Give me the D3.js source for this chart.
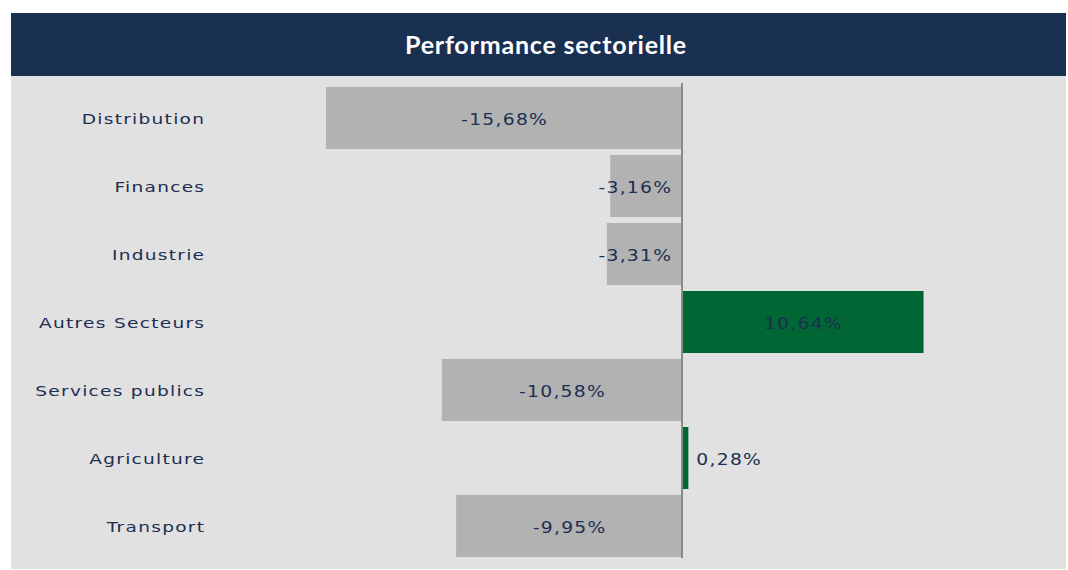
<!DOCTYPE html>
<html><head><meta charset="utf-8">
<script src="https://cdn.jsdelivr.net/npm/d3@7"></script>
<style>body{margin:0;background:#fff}svg{display:block}</style>
</head><body>
<svg id="c" width="1068" height="570"></svg>
<script>
const categories = ["Distribution","Finances","Industrie","Autres Secteurs","Services publics","Agriculture","Transport"];
const values = [-15.68,-3.16,-3.31,10.64,-10.58,0.28,-9.95];
const title = "Performance sectorielle";

const svg = d3.select("#c");
svg.append("rect").attr("x",11).attr("y",76).attr("width",1055).attr("height",493).attr("fill","#e1e1e1");
svg.append("rect").attr("x",11).attr("y",13).attr("width",1055).attr("height",63).attr("fill","#1a3050");
svg.append("text").attr("x",546).attr("y",54).attr("text-anchor","middle")
  .attr("fill","#fff").attr("font-family","Lato, 'Open Sans', sans-serif").attr("font-weight",700)
  .attr("font-size",25).attr("letter-spacing",0.8).text(title);

const x = d3.scaleLinear().domain([-20,15]).range([228,1022.5]);
const y = d3.scaleBand().domain(categories).range([84,560]).paddingInner(0.088).paddingOuter(0.044);
const fmt = v => d3.format(".2f")(v).replace(".",",").replace("−","-") + "%";

svg.selectAll("rect.bar").data(values).join("rect").attr("class","bar")
  .attr("x",d=>x(Math.min(0,d))).attr("width",d=>Math.abs(x(d)-x(0)))
  .attr("y",(d,i)=>y(categories[i])).attr("height",y.bandwidth())
  .attr("fill",d=>d<0?"#b2b2b2":"#006633");

svg.append("line").attr("x1",x(0)).attr("x2",x(0)).attr("y1",83).attr("y2",558)
  .attr("stroke","#8a8a8a").attr("stroke-width",2);

const lblFont = "'DejaVu Sans', sans-serif";
const catSX = 1.28, valSX = 1.25, ls = 1;
svg.selectAll("g.cat").data(categories).join("g").attr("class","cat")
  .attr("transform",d=>`translate(${204+ls*catSX},${y(d)+y.bandwidth()/2+6}) scale(${catSX},1)`)
  .append("text").attr("text-anchor","end")
  .attr("fill","#1b2f52").attr("font-family",lblFont).attr("font-size",14.5)
  .attr("letter-spacing",ls).text(d=>d);

svg.selectAll("g.val").data(values).join("g").attr("class","val")
  .each(function(d,i){
    const g = d3.select(this);
    const w = Math.abs(x(d)-x(0));
    const cy = y(categories[i])+y.bandwidth()/2+7;
    let xx, anchor;
    if (w < 30) { xx = x(d)+8; anchor="start"; }
    else if (w < 100) { xx = x(0)-11+ls*valSX; anchor="end"; }
    else { xx = (x(d)+x(0))/2+ls*valSX/2; anchor="middle"; }
    g.attr("transform",`translate(${xx},${cy}) scale(${valSX},1)`);
    g.append("text").attr("text-anchor",anchor)
      .attr("fill","#1b2f52").attr("font-family",lblFont).attr("font-size",15)
      .attr("letter-spacing",ls).text(fmt(d));
  });
</script>
</body></html>
